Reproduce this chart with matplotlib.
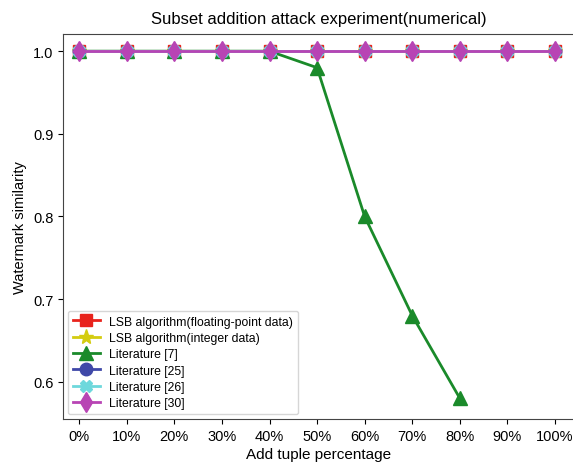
import matplotlib.pyplot as plt
import numpy as np

plt.rcParams['font.family'] = ['Liberation Sans', 'DejaVu Sans']

# x axis: percentage of tuples added
pct_labels = ['0%', '10%', '20%', '30%', '40%', '50%', '60%', '70%', '80%', '90%', '100%']
x = np.arange(len(pct_labels))

lsb_float = [1.0, 1.0, 1.0, 1.0, 1.0, 1.0, 1.0, 1.0, 1.0, 1.0, 1.0]
lsb_int = [1.0, 1.0, 1.0, 1.0, 1.0, 1.0, 1.0, 1.0, 1.0, 1.0, 1.0]
lit7 = [1.0, 1.0, 1.0, 1.0, 1.0, 0.98, 0.80, 0.68, 0.58]
lit25 = [1.0, 1.0, 1.0, 1.0, 1.0, 1.0, 1.0, 1.0, 1.0, 1.0, 1.0]
lit26 = [1.0, 1.0, 1.0, 1.0, 1.0, 1.0, 1.0, 1.0, 1.0, 1.0, 1.0]
lit30 = [1.0, 1.0, 1.0, 1.0, 1.0, 1.0, 1.0, 1.0, 1.0, 1.0, 1.0]

fig = plt.figure(figsize=(5.73, 4.64), dpi=100)
# axes run past the right edge of the figure
ax = fig.add_axes([0.110, 0.095, 0.910, 0.830])

lw = 2
ms = 9
ax.plot(x, lsb_float, 's-', color='#e8231c', lw=lw, ms=ms, label='LSB algorithm(floating-point data)')
ax.plot(x, lsb_int, '*-', color='#d4cc10', lw=lw, ms=ms + 2, label='LSB algorithm(integer data)')
ax.plot(x[:len(lit7)], lit7, '^-', color='#1a8a2a', lw=lw, ms=ms + 1, label='Literature [7]')
ax.plot(x, lit25, 'o-', color='#3f48a8', lw=lw, ms=ms, label='Literature [25]')
ax.plot(x, lit26, 'X-', color='#6ed8dc', lw=lw, ms=ms, label='Literature [26]')
ax.plot(x, lit30, 'd-', color='#b844b4', lw=lw, ms=ms + 1, label='Literature [30]')

ax.set_xlim(-0.34, 10.62)
ax.set_ylim(0.555, 1.021)
ax.set_xticks(x)
ax.set_xticklabels(pct_labels)
ax.set_yticks([0.6, 0.7, 0.8, 0.9, 1.0])
ax.tick_params(labelsize=10.5)
ax.set_xlabel('Add tuple percentage', fontsize=11, labelpad=3, x=0.49)
ax.set_ylabel('Watermark similarity', fontsize=10.5)
ax.set_title('Subset addition attack experiment(numerical)', fontsize=12, pad=8,
             x=0.49)

for s in ax.spines.values():
    s.set_color('#444444')

ax.legend(loc='lower left', fontsize=8.8, handlelength=2.2, borderaxespad=0.4,
          labelspacing=0.35, handletextpad=0.8)

fig.savefig('out.png', dpi=100)
